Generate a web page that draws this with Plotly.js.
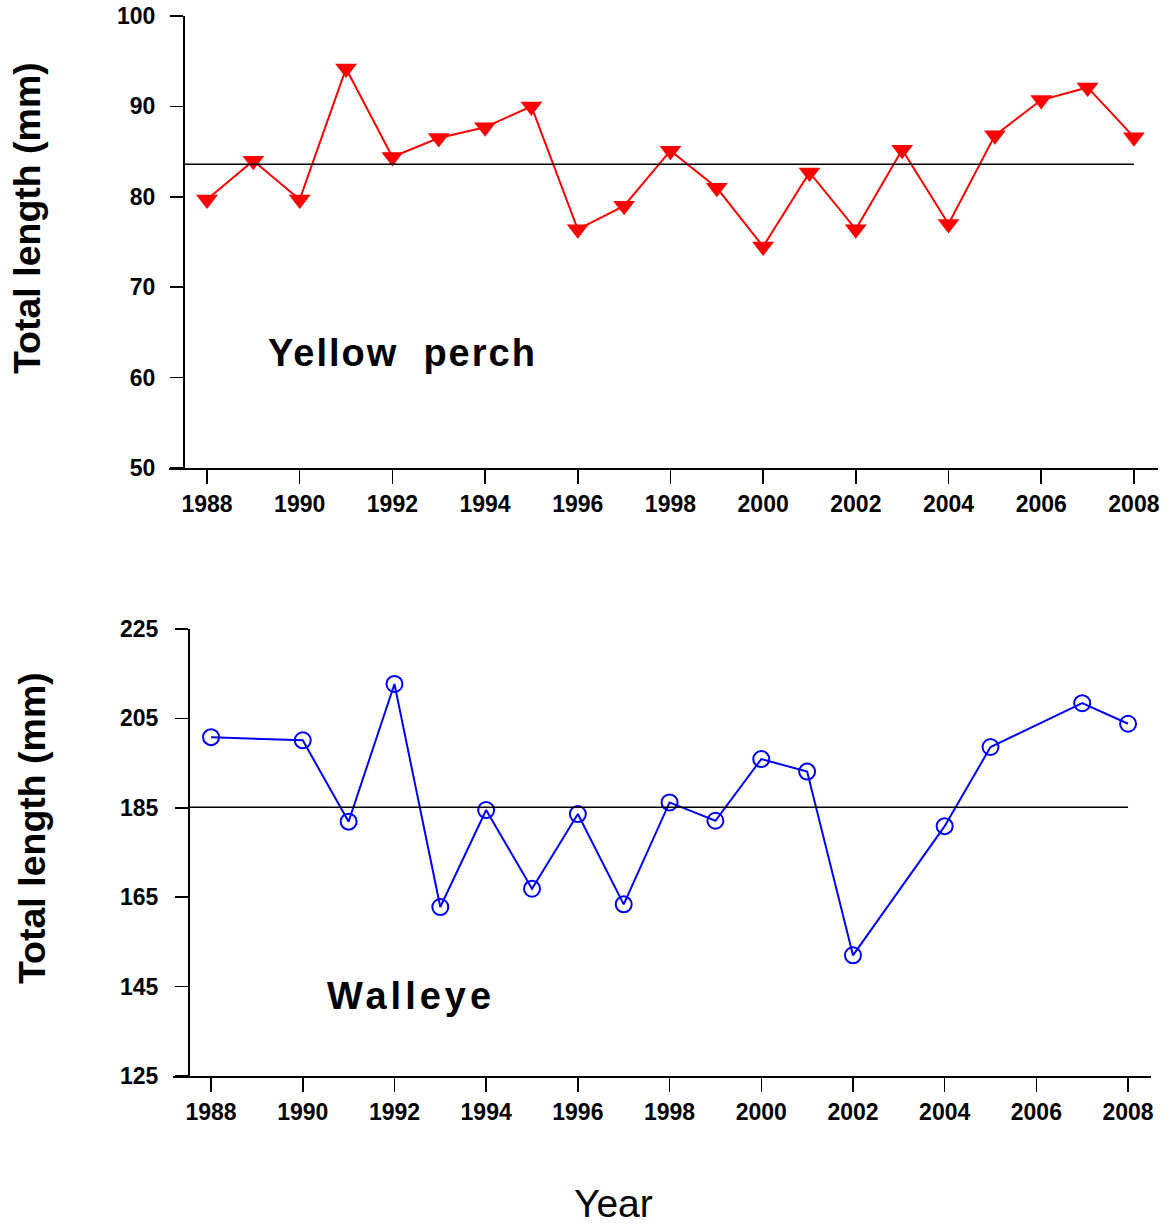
<!DOCTYPE html>
<html>
<head>
<meta charset="utf-8">
<script src="https://cdn.plot.ly/plotly-3.0.1.min.js"></script>
<style>html,body{margin:0;padding:0;background:#fff;}</style>
</head>
<body>
<div id="chart" style="width:1171px;height:1226px;"></div>
<script>
// Yellow perch
const perchYears = [1988,1989,1990,1991,1992,1993,1994,1995,1996,1997,1998,1999,2000,2001,2002,2003,2004,2005,2006,2007,2008];
const perchLength = [79.7,84.0,79.7,94.2,84.4,86.5,87.7,90.0,76.4,79.0,85.1,81.0,74.5,82.7,76.4,85.2,77.0,86.8,90.7,92.1,86.6];
const perchMean = 83.6;
// Walleye
const walleyeYears = [1988,1990,1991,1992,1993,1994,1995,1996,1997,1998,1999,2000,2001,2002,2004,2005,2007,2008];
const walleyeLength = [200.8,200.1,181.9,212.7,162.8,184.5,166.9,183.6,163.4,186.2,182.1,195.9,193.1,152.0,180.9,198.6,208.4,203.8];
const walleyeMean = 185.1;
const meanSpan = [1987.5, 2008];
const xTickYears = [1988,1990,1992,1994,1996,1998,2000,2002,2004,2006,2008];
const perchTicks = [50,60,70,80,90,100];
const walleyeTicks = [125,145,165,185,205,225];

const W = 1171, H = 1226;
const FONT = '"Liberation Sans", Arial, sans-serif';
const tickFont = {family: FONT, size: 23, color: '#000', weight: 'bold'};
const px = v => v / W;
const py = v => (H - v) / H;

const traces = [
  {x: perchYears, y: perchLength, xaxis: 'x', yaxis: 'y', mode: 'lines+markers',
   line: {color: '#ff0000', width: 2},
   marker: {symbol: 'triangle-down', size: 19, color: '#ff0000'}},
  {x: meanSpan, y: [perchMean, perchMean], xaxis: 'x', yaxis: 'y', mode: 'lines',
   line: {color: '#000', width: 1.5}},
  {x: walleyeYears, y: walleyeLength, xaxis: 'x2', yaxis: 'y2', mode: 'lines+markers',
   line: {color: '#0000ff', width: 2},
   marker: {symbol: 'circle-open', size: 16, color: '#0000ff', line: {width: 2, color: '#0000ff'}}},
  {x: meanSpan, y: [walleyeMean, walleyeMean], xaxis: 'x2', yaxis: 'y2', mode: 'lines',
   line: {color: '#000', width: 1.5}}
];

const xBase = {showgrid: false, zeroline: false, showline: true, linecolor: '#000', linewidth: 1.5,
  ticks: 'outside', ticklen: 14, tickwidth: 1.5, tickcolor: '#000', tickvals: xTickYears,
  tickfont: tickFont, fixedrange: true};
const yBase = {showgrid: false, zeroline: false, showline: true, linecolor: '#000', linewidth: 1.5,
  ticks: 'outside', ticklen: 13, tickwidth: 1.5, tickcolor: '#000',
  tickfont: tickFont, fixedrange: true, anchor: 'free'};

const layout = {
  width: W, height: H, margin: {l: 0, r: 0, t: 0, b: 0},
  paper_bgcolor: '#fff', plot_bgcolor: 'rgba(0,0,0,0)', showlegend: false,
  font: {family: FONT, color: '#000'},
  xaxis: Object.assign({}, xBase, {domain: [px(169), px(1158)], range: [1987.18, 2008.52], anchor: 'y', ticklabelstandoff: 1}),
  yaxis: Object.assign({}, yBase, {domain: [py(468), py(16)], range: [50, 100], tickvals: perchTicks, position: px(183), ticklabelstandoff: 10}),
  xaxis2: Object.assign({}, xBase, {domain: [px(173), px(1151)], range: [1987.17, 2008.5], anchor: 'y2', ticklabelstandoff: 1}),
  yaxis2: Object.assign({}, yBase, {domain: [py(1076), py(629)], range: [125, 225], tickvals: walleyeTicks, position: px(188), ticklabelstandoff: 12}),
  annotations: [
    {text: 'Total length (mm)', xref: 'paper', yref: 'paper', x: px(27), y: py(218), textangle: -90,
     showarrow: false, xanchor: 'center', yanchor: 'middle', font: {family: FONT, size: 37.5, weight: 'bold', color: '#000'}},
    {text: 'Total length (mm)', xref: 'paper', yref: 'paper', x: px(32), y: py(828), textangle: -90,
     showarrow: false, xanchor: 'center', yanchor: 'middle', font: {family: FONT, size: 37.5, weight: 'bold', color: '#000'}},
    {text: '<span style="letter-spacing:2px">Yellow  perch</span>', xref: 'paper', yref: 'paper', x: px(266), y: py(353),
     showarrow: false, xanchor: 'left', yanchor: 'middle', font: {family: FONT, size: 38, weight: 'bold', color: '#000'}},
    {text: '<span style="letter-spacing:4px">Walleye</span>', xref: 'paper', yref: 'paper', x: px(325), y: py(996),
     showarrow: false, xanchor: 'left', yanchor: 'middle', font: {family: FONT, size: 38, weight: 'bold', color: '#000'}},
    {text: 'Year', xref: 'paper', yref: 'paper', x: px(613), y: py(1227),
     showarrow: false, xanchor: 'center', yanchor: 'bottom', font: {family: FONT, size: 39, color: '#000'}}
  ]
};

Plotly.newPlot('chart', traces, layout, {staticPlot: true, displayModeBar: false});
</script>
</body>
</html>
